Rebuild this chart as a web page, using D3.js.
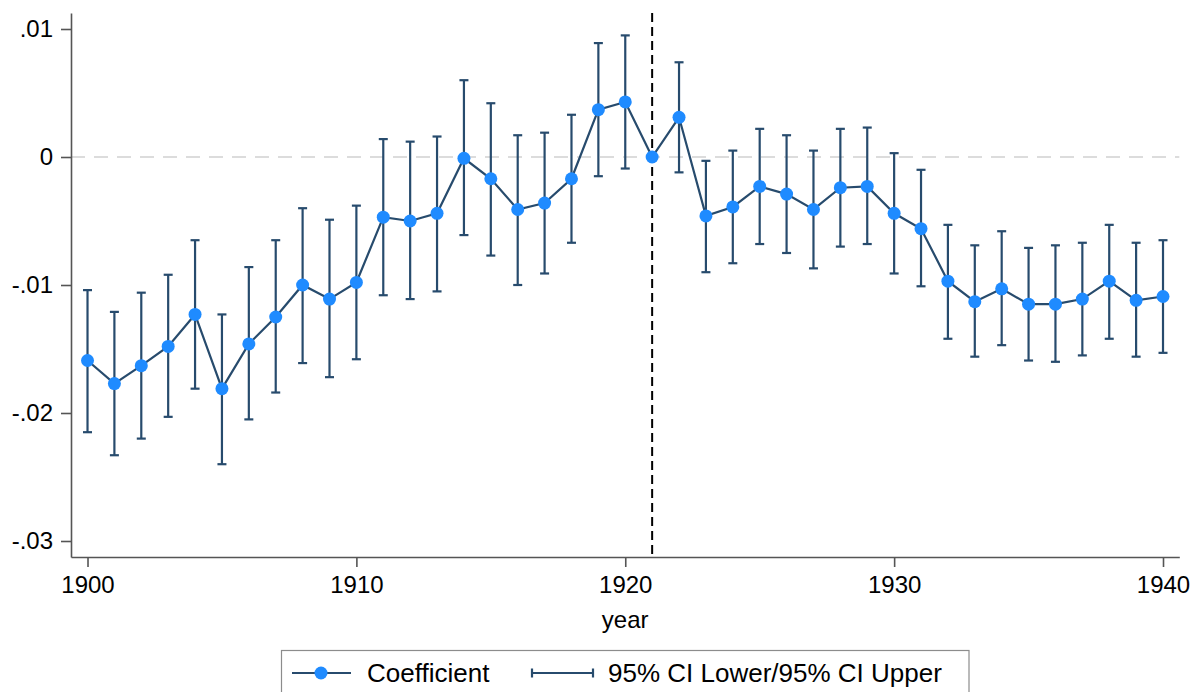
<!DOCTYPE html>
<html>
<head>
<meta charset="utf-8">
<script src="https://cdn.jsdelivr.net/npm/d3@7"></script>
<style>
  body { margin: 0; background: #fff; }
  text { font-family: "Liberation Sans", Arial, sans-serif; fill: #000; }
</style>
</head>
<body>
<div id="chart"></div>
<script>
const years = d3.range(1900, 1941);
const coef = [
  -0.0159, -0.0177, -0.0163, -0.0148, -0.0123, -0.0181, -0.0146, -0.0125, -0.0100, -0.0111,
  -0.0098, -0.0047, -0.0050, -0.0044, -0.0001, -0.0017, -0.0041, -0.0036, -0.0017, 0.0037,
  0.0043, 0.0000, 0.0031, -0.0046, -0.0039, -0.0023, -0.0029, -0.0041, -0.0024, -0.0023,
  -0.0044, -0.0056, -0.0097, -0.0113, -0.0103, -0.0115, -0.0115, -0.0111, -0.0097, -0.0112,
  -0.0109
];
const ciLower = [
  -0.0215, -0.0233, -0.0220, -0.0203, -0.0181, -0.0240, -0.0205, -0.0184, -0.0161, -0.0172,
  -0.0158, -0.0108, -0.0111, -0.0105, -0.0061, -0.0077, -0.0100, -0.0091, -0.0067, -0.0015,
  -0.0009, null, -0.0012, -0.0090, -0.0083, -0.0068, -0.0075, -0.0087, -0.0070, -0.0068,
  -0.0091, -0.0101, -0.0142, -0.0156, -0.0147, -0.0159, -0.0160, -0.0155, -0.0142, -0.0156,
  -0.0153
];
const ciUpper = [
  -0.0104, -0.0121, -0.0106, -0.0092, -0.0065, -0.0123, -0.0086, -0.0065, -0.0040, -0.0049,
  -0.0038, 0.0014, 0.0012, 0.0016, 0.0060, 0.0042, 0.0017, 0.0019, 0.0033, 0.0089,
  0.0095, null, 0.0074, -0.0003, 0.0005, 0.0022, 0.0017, 0.0005, 0.0022, 0.0023,
  0.0003, -0.0010, -0.0053, -0.0069, -0.0058, -0.0071, -0.0069, -0.0067, -0.0053, -0.0067,
  -0.0065
];
const yTicks = [-0.03, -0.02, -0.01, 0, 0.01];
const xTicks = [1900, 1910, 1920, 1930, 1940];
const eventYear = 1921;

const W = 1195, H = 692;
const navy = "#274b6d", blue = "#1f8bff";

const svg = d3.select("#chart").append("svg").attr("width", W).attr("height", H);

const x = d3.scaleLinear().domain([1899.386, 1940.606]).range([71, 1179.3]);
const y = d3.scaleLinear().domain([-0.03125, 0.01125]).range([557, 13]);

const fmt = d => d === 0 ? "0" : (d < 0 ? "-" : "") + d3.format(".2f")(Math.abs(d)).replace(/^0/, "");

// zero reference line
svg.append("line")
  .attr("x1", x.range()[0]).attr("x2", x.range()[1])
  .attr("y1", y(0)).attr("y2", y(0))
  .attr("stroke", "#dcdcdc").attr("stroke-width", 2)
  .attr("stroke-dasharray", "14,9");

// event line
svg.append("line")
  .attr("x1", x(eventYear)).attr("x2", x(eventYear))
  .attr("y1", y.range()[1]).attr("y2", y.range()[0])
  .attr("stroke", "#000").attr("stroke-width", 2)
  .attr("stroke-dasharray", "9,5");

// axes
const yAxis = svg.append("g")
  .attr("transform", `translate(${x.range()[0]},0)`)
  .call(d3.axisLeft(y).tickValues(yTicks).tickFormat(fmt).tickSize(10).tickSizeOuter(0).tickPadding(8));
const xAxis = svg.append("g")
  .attr("transform", `translate(0,${y.range()[0]})`)
  .call(d3.axisBottom(x).tickValues(xTicks).tickFormat(d3.format("d")).tickSize(10).tickSizeOuter(0).tickPadding(9));
[yAxis, xAxis].forEach(g => {
  g.select(".domain").attr("stroke", "#555").attr("stroke-width", 1.6);
  g.selectAll(".tick line").attr("stroke", "#555").attr("stroke-width", 1.6);
  g.selectAll(".tick text").attr("font-size", 24).attr("fill", "#000")
    .style("font-family", "'Liberation Sans', Arial, sans-serif");
});

svg.append("text")
  .attr("x", (x.range()[0] + x.range()[1]) / 2).attr("y", 628)
  .attr("text-anchor", "middle").attr("font-size", 24)
  .text("year");

// confidence intervals
const ci = years.map((yr, i) => ({ yr, lo: ciLower[i], hi: ciUpper[i] })).filter(d => d.lo !== null);
const capW = 4.5;
const bars = svg.append("g").attr("stroke", navy).attr("stroke-width", 2.2);
bars.selectAll("line.v").data(ci).join("line").attr("class", "v")
  .attr("x1", d => x(d.yr)).attr("x2", d => x(d.yr))
  .attr("y1", d => y(d.lo)).attr("y2", d => y(d.hi));
bars.selectAll("line.lo").data(ci).join("line").attr("class", "lo")
  .attr("x1", d => x(d.yr) - capW).attr("x2", d => x(d.yr) + capW)
  .attr("y1", d => y(d.lo)).attr("y2", d => y(d.lo));
bars.selectAll("line.hi").data(ci).join("line").attr("class", "hi")
  .attr("x1", d => x(d.yr) - capW).attr("x2", d => x(d.yr) + capW)
  .attr("y1", d => y(d.hi)).attr("y2", d => y(d.hi));

// coefficient line and markers
const pts = years.map((yr, i) => ({ yr, v: coef[i] }));
svg.append("path").datum(pts)
  .attr("fill", "none").attr("stroke", navy).attr("stroke-width", 2.2)
  .attr("d", d3.line().x(d => x(d.yr)).y(d => y(d.v)));
svg.append("g").selectAll("circle").data(pts).join("circle")
  .attr("cx", d => x(d.yr)).attr("cy", d => y(d.v)).attr("r", 6.5)
  .attr("fill", blue);

// legend
const lg = svg.append("g");
lg.append("rect").attr("x", 281.5).attr("y", 650.5).attr("width", 687.5).attr("height", 60)
  .attr("fill", "#fff").attr("stroke", "#8c8c8c").attr("stroke-width", 1.2);
lg.append("line").attr("x1", 292).attr("x2", 351).attr("y1", 673).attr("y2", 673)
  .attr("stroke", navy).attr("stroke-width", 2.2);
lg.append("circle").attr("cx", 321).attr("cy", 673).attr("r", 6.5).attr("fill", blue);
lg.append("text").attr("x", 367).attr("y", 682).attr("font-size", 26).text("Coefficient");
lg.append("line").attr("x1", 532).attr("x2", 593).attr("y1", 673).attr("y2", 673)
  .attr("stroke", navy).attr("stroke-width", 2.2);
[532, 593].forEach(px => lg.append("line").attr("x1", px).attr("x2", px)
  .attr("y1", 668.5).attr("y2", 677.5).attr("stroke", navy).attr("stroke-width", 2.2));
lg.append("text").attr("x", 608).attr("y", 682).attr("font-size", 26).text("95% CI Lower/95% CI Upper");
</script>
</body>
</html>
